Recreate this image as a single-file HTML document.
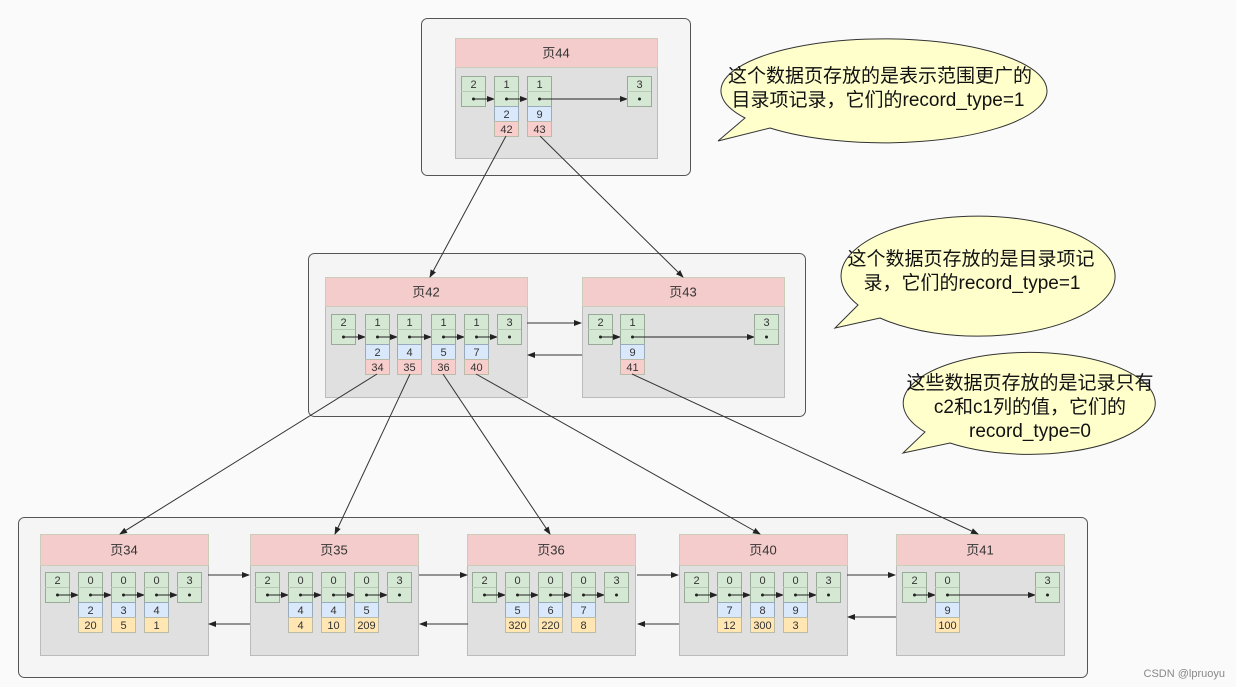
<!DOCTYPE html>
<html><head><meta charset="utf-8">
<style>
html,body{margin:0;padding:0;background:#fafafa;}
svg{display:block;font-family:"Liberation Sans","Noto Sans CJK SC",sans-serif;}
</style></head>
<body>
<svg id="s" width="1236" height="687" viewBox="0 0 1236 687" xmlns="http://www.w3.org/2000/svg">
<defs>
<marker id="a" markerWidth="8" markerHeight="6" refX="7" refY="3" orient="auto" markerUnits="userSpaceOnUse"><path d="M0,0 L8,3 L0,6 z" fill="#222"/></marker>
</defs>
<rect width="1236" height="687" fill="#fafafa"/>
<rect x="421.5" y="18.5" width="269" height="157" rx="6" fill="#f5f5f5" stroke="#555"/>
<rect x="308.5" y="253.5" width="497" height="163" rx="6" fill="#f5f5f5" stroke="#555"/>
<rect x="18.5" y="517.5" width="1069" height="160" rx="6" fill="#f5f5f5" stroke="#555"/>
<g id="g"></g>
<g stroke="#333" stroke-width="1" fill="none" marker-end="url(#a)">
<line x1="506" y1="136" x2="430" y2="277"/>
<line x1="540" y1="136" x2="683" y2="277"/>
<line x1="377" y1="374" x2="120" y2="534"/>
<line x1="410" y1="374" x2="335" y2="534"/>
<line x1="443" y1="374" x2="550" y2="534"/>
<line x1="476" y1="374" x2="760" y2="534"/>
<line x1="632" y1="374" x2="978" y2="534"/>
<line x1="527" y1="323" x2="581" y2="323"/>
<line x1="582" y1="355" x2="528" y2="355"/>
<line x1="208" y1="575" x2="249" y2="575"/>
<line x1="250" y1="624" x2="209" y2="624"/>
<line x1="419" y1="575" x2="467" y2="575"/>
<line x1="468" y1="624" x2="420" y2="624"/>
<line x1="637" y1="575" x2="678" y2="575"/>
<line x1="679" y1="624" x2="638" y2="624"/>
<line x1="847" y1="575" x2="895" y2="575"/>
<line x1="896" y1="617" x2="848" y2="617"/>
</g>
<g fill="#ffffcc" stroke="#333" stroke-width="1">
<path d="M718,141 L770,128 A163,52 0 1 0 745,118 Z"/>
<path d="M835,328 L880,318 A137,60 0 1 0 858,305 Z"/>
<path d="M903,453 L950,443 A126,51 0 1 0 925,432 Z"/>
</g>
<g font-size="19" fill="#111" text-anchor="middle">
<text x="880" y="82">这个数据页存放的是表示范围更广的</text>
<text x="878" y="106">目录项记录，它们的record_type=1</text>
<text x="971" y="265">这个数据页存放的是目录项记</text>
<text x="972" y="289">录，它们的record_type=1</text>
<text x="1030" y="389">这些数据页存放的是记录只有</text>
<text x="1030" y="413">c2和c1列的值，它们的</text>
<text x="1030" y="437">record_type=0</text>
</g>
<text x="1225" y="677" font-size="11" fill="#888" text-anchor="end">CSDN @lpruoyu</text>
</svg>
<script>
var g=document.getElementById('g'),h='';
function page(x,y,w,hh,title,hdr){
 h+='<rect x="'+(x+.5)+'" y="'+(y+.5)+'" width="'+w+'" height="'+hh+'" fill="#e0e0e0" stroke="#bbb"/>';
 h+='<rect x="'+(x+.5)+'" y="'+(y+.5)+'" width="'+w+'" height="'+hdr+'" fill="#f4cccc" stroke="#ccb"/>';
 h+='<text x="'+(x+w/2)+'" y="'+(y+hdr/2+5)+'" font-size="13" fill="#333" text-anchor="middle">'+title+'</text>';
}
function cells(y,list,bottomColor){
 // list: [x,top,blue,val]
 for(var i=0;i<list.length;i++){var c=list[i],x=c[0];
  h+='<rect x="'+(x+.5)+'" y="'+(y+.5)+'" width="24" height="30" fill="#d5e8d4" stroke="#9a9"/>';
  h+='<line x1="'+x+'" y1="'+(y+15.5)+'" x2="'+(x+24)+'" y2="'+(y+15.5)+'" stroke="#b8c8b6"/>';
  h+='<text x="'+(x+12.5)+'" y="'+(y+12)+'" font-size="11" fill="#333" text-anchor="middle">'+c[1]+'</text>';
  h+='<circle cx="'+(x+12.5)+'" cy="'+(y+23)+'" r="1.5" fill="#222"/>';
  if(c[2]!==undefined){
   h+='<rect x="'+(x+.5)+'" y="'+(y+30.5)+'" width="24" height="15" fill="#dae8fc" stroke="#9ab"/>';
   h+='<rect x="'+(x+.5)+'" y="'+(y+45.5)+'" width="24" height="15" fill="'+bottomColor+'" stroke="#bba"/>';
   h+='<text x="'+(x+12.5)+'" y="'+(y+42)+'" font-size="11" fill="#333" text-anchor="middle">'+c[2]+'</text>';
   h+='<text x="'+(x+12.5)+'" y="'+(y+57)+'" font-size="11" fill="#333" text-anchor="middle">'+c[3]+'</text>';
  }
  if(i<list.length-1){
   h+='<line x1="'+(x+12.5)+'" y1="'+(y+23)+'" x2="'+list[i+1][0]+'" y2="'+(y+23)+'" stroke="#222" marker-end="url(#a)"/>';
  }
 }
}
page(455,38,202,120,'页44',29);
cells(76,[[461,2],[494,1,2,42],[527,1,9,43],[627,3]],'#f8cecc');
page(325,277,202,120,'页42',29);
cells(314,[[331,2],[365,1,2,34],[397,1,4,35],[431,1,5,36],[464,1,7,40],[497,3]],'#f8cecc');
page(582,277,202,120,'页43',29);
cells(314,[[588,2],[620,1,9,41],[754,3]],'#f8cecc');
var bp=[[40,'页34',[[2],[0,2,20],[0,3,5],[0,4,1],[3]]],
 [250,'页35',[[2],[0,4,4],[0,4,10],[0,5,209],[3]]],
 [467,'页36',[[2],[0,5,320],[0,6,220],[0,7,8],[3]]],
 [679,'页40',[[2],[0,7,12],[0,8,300],[0,9,3],[3]]]];
bp.forEach(function(p){
 page(p[0],534,168,121,p[1],31);
 var l=p[2].map(function(c,i){return [p[0]+5+i*33].concat(c);});
 cells(572,l,'#ffe6b3');
});
page(896,534,168,121,'页41',31);
cells(572,[[902,2],[935,0,9,100],[1035,3]],'#ffe6b3');
g.innerHTML=h;
</script>
</body></html>
